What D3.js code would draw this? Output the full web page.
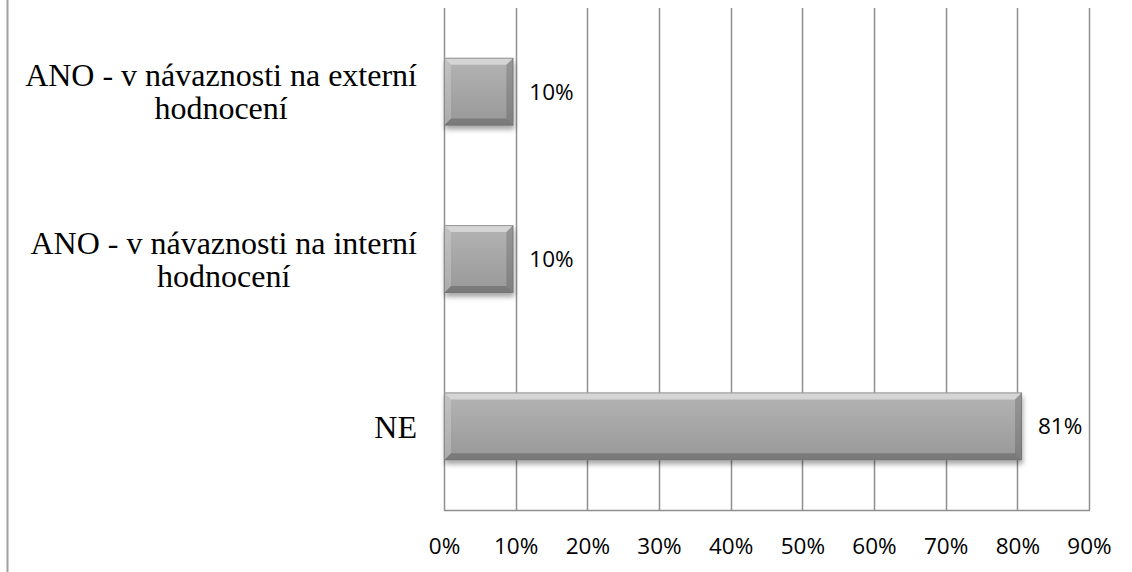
<!DOCTYPE html>
<html><head><meta charset="utf-8">
<script src="https://cdn.jsdelivr.net/npm/d3@7"></script>
<style>body{margin:0;background:#fff}svg{display:block}</style>
</head><body>
<svg id="c" width="1132" height="572"></svg>
<script>
const categories = [
  ["ANO - v návaznosti na externí", "hodnocení"],
  ["ANO - v návaznosti na interní", "hodnocení"],
  ["NE"]
];
const values = [9.68, 9.68, 80.65];
const ticks = [0, 10, 20, 30, 40, 50, 60, 70, 80, 90];

const svg = d3.select("#c");
const W = 1132, H = 572;
const m = {left: 444, right: 1089, top: 8, bottom: 510};
const sansFont = "'Open Sans', Lato, sans-serif";
const sansSize = 22.5;

const x = d3.scaleLinear().domain([0, 90]).range([m.left, m.right]);
const y = d3.scaleBand().domain(d3.range(categories.length)).range([m.top, m.bottom]).paddingInner(0.595).paddingOuter(0.2975);

const defs = svg.append("defs");
const g = defs.append("linearGradient").attr("id", "barg").attr("x1", 0).attr("y1", 0).attr("x2", 0).attr("y2", 1);
g.append("stop").attr("offset", "0%").attr("stop-color", "#b4b4b4");
g.append("stop").attr("offset", "50%").attr("stop-color", "#a6a6a6");
g.append("stop").attr("offset", "100%").attr("stop-color", "#989898");
const f = defs.append("filter").attr("id", "sh").attr("x", "-10%").attr("y", "-20%").attr("width", "130%").attr("height", "160%");
f.append("feDropShadow").attr("dx", 1).attr("dy", 4).attr("stdDeviation", 2.5).attr("flood-color", "#000").attr("flood-opacity", 0.35);

// left border of chart area
svg.append("line").attr("x1", 7.5).attr("x2", 7.5).attr("y1", 0).attr("y2", H).attr("stroke", "#a0a0a0").attr("stroke-width", 2);

// gridlines
svg.append("g").selectAll("line").data(ticks).join("line")
  .attr("x1", d => Math.round(x(d)) + 0.5).attr("x2", d => Math.round(x(d)) + 0.5)
  .attr("y1", m.top).attr("y2", m.bottom)
  .attr("stroke", "#8f8f8f").attr("stroke-width", 1.5);
svg.append("line").attr("x1", x(0)).attr("x2", x(90) + 1).attr("y1", m.bottom + 0.5).attr("y2", m.bottom + 0.5)
  .attr("stroke", "#8f8f8f").attr("stroke-width", 1.5);

// x axis labels
const xa = d3.axisBottom(x).tickValues(ticks).tickFormat(d => d + "%").tickSize(0).tickPadding(0);
const ax = svg.append("g").attr("transform", `translate(0,${m.bottom})`).call(xa);
ax.select(".domain").remove();
ax.selectAll("text").attr("font-family", sansFont).attr("font-size", sansSize).attr("fill", "#000")
  .attr("dy", null).attr("y", 44);

// bars
const bev = 7;
const bars = svg.append("g").selectAll("g").data(values).join("g");
bars.each(function(v, i) {
  const sel = d3.select(this);
  const x0 = x(0), x1 = x(v), y0 = y(i), h = y.bandwidth(), w = x1 - x0;
  sel.append("rect").attr("x", x0).attr("y", y0).attr("width", w).attr("height", h)
    .attr("fill", "url(#barg)").attr("filter", "url(#sh)");
  const b = Math.min(bev, w / 2, h / 2);
  const P = pts => pts.map(p => p.join(",")).join(" ");
  sel.append("polygon").attr("points", P([[x0,y0],[x1,y0],[x1-b,y0+b],[x0+b,y0+b]])).attr("fill", "#fff").attr("opacity", 0.45);
  sel.append("polygon").attr("points", P([[x0,y0],[x0+b,y0+b],[x0+b,y0+h-b],[x0,y0+h]])).attr("fill", "#fff").attr("opacity", 0.2);
  sel.append("polygon").attr("points", P([[x0,y0+h],[x0+b,y0+h-b],[x1-b,y0+h-b],[x1,y0+h]])).attr("fill", "#000").attr("opacity", 0.2);
  sel.append("polygon").attr("points", P([[x1,y0],[x1,y0+h],[x1-b,y0+h-b],[x1-b,y0+b]])).attr("fill", "#000").attr("opacity", 0.16);
  sel.append("rect").attr("x", x0 + 0.5).attr("y", y0 + 0.5).attr("width", w - 1).attr("height", h - 1)
    .attr("fill", "none").attr("stroke", "#6e6e6e").attr("stroke-opacity", 0.6);
  sel.append("text").attr("x", x1 + 16).attr("y", y0 + h / 2).attr("dy", "0.36em")
    .attr("font-family", sansFont).attr("font-size", sansSize).attr("fill", "#000")
    .text(Math.round(v) + "%");
});

// category labels
const lh = 33, rightEdge = 417;
categories.forEach((lines, i) => {
  const cy = y(i) + y.bandwidth() / 2;
  const grp = svg.append("g");
  const ts = lines.map((t, k) => grp.append("text").attr("font-family", "'Liberation Serif', 'Times New Roman', serif")
    .attr("font-size", 32).attr("fill", "#000").attr("text-anchor", "middle")
    .attr("y", cy + (k - (lines.length - 1) / 2) * lh).attr("dy", "0.35em").text(t));
  const maxW = d3.max(ts, t => t.node().getComputedTextLength());
  ts.forEach(t => t.attr("x", rightEdge - maxW / 2));
});
</script>
</body></html>
